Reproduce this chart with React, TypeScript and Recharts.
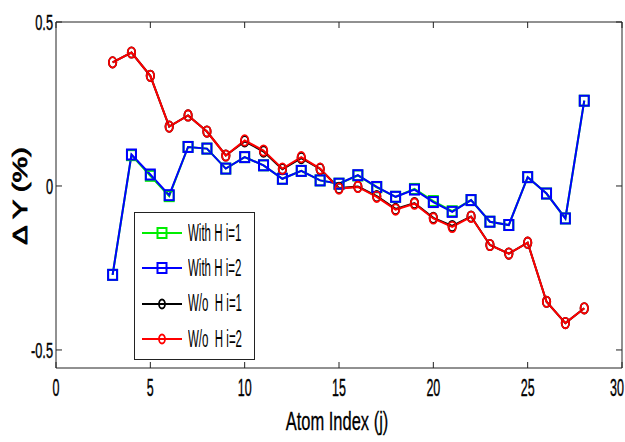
import { LineChart, Line, XAxis, YAxis, Legend } from 'recharts';

const atomIndex = [3, 4, 5, 6, 7, 8, 9, 10, 11, 12, 13, 14, 15, 16, 17, 18, 19, 20, 21, 22, 23, 24, 25, 26, 27, 28];

const withHi1 = [-0.271, 0.094, 0.031, -0.031, 0.119, 0.114, 0.053, 0.088, 0.063, 0.022, 0.046, 0.017, 0.007, 0.032, -0.004, -0.033, -0.009, -0.046, -0.077, -0.043, -0.109, -0.119, 0.027, -0.023, -0.099, 0.26];
const withHi2 = [-0.271, 0.096, 0.035, -0.028, 0.119, 0.114, 0.053, 0.088, 0.063, 0.022, 0.046, 0.017, 0.007, 0.033, -0.003, -0.033, -0.011, -0.049, -0.079, -0.043, -0.109, -0.119, 0.027, -0.023, -0.099, 0.26];
const woHi1 = [0.377, 0.407, 0.336, 0.181, 0.215, 0.166, 0.093, 0.136, 0.105, 0.051, 0.085, 0.052, -0.006, -0.002, -0.031, -0.07, -0.052, -0.097, -0.122, -0.093, -0.18, -0.206, -0.173, -0.353, -0.418, -0.373];
const woHi2 = [0.377, 0.407, 0.336, 0.181, 0.215, 0.166, 0.093, 0.139, 0.108, 0.053, 0.088, 0.053, -0.008, -0.003, -0.033, -0.072, -0.054, -0.099, -0.125, -0.094, -0.18, -0.206, -0.173, -0.353, -0.418, -0.373];

const xTicks = [0, 5, 10, 15, 20, 25, 30];
const yTicks = [-0.5, 0, 0.5];

const seriesNames = ['With H i=1', 'With H i=2', 'W/o  H i=1', 'W/o  H i=2'];
const seriesColors = ['#00ee00', '#0000ff', '#000000', '#ff0000'];
const seriesMarkers = ['square', 'square', 'circle', 'circle'];

const data = atomIndex.map((x, i) => ({
  x,
  withHi1: withHi1[i],
  withHi2: withHi2[i],
  woHi1: woHi1[i],
  woHi2: woHi2[i],
}));

const FONT = "'Liberation Sans', Arial, sans-serif";

const squareDot = (color: string) => (props: any) => {
  const { cx, cy, index } = props;
  if (cx == null || cy == null) return <g key={index} />;
  return (
    <rect key={index} x={cx - 4.5} y={cy - 5} width={9} height={10} fill="none" stroke={color} strokeWidth={2} />
  );
};

const circleDot = (color: string) => (props: any) => {
  const { cx, cy, index } = props;
  if (cx == null || cy == null) return <g key={index} />;
  return <ellipse key={index} cx={cx} cy={cy} rx={3.7} ry={5.2} fill="none" stroke={color} strokeWidth={1.8} />;
};

// narrow, tall tick labels like the old matlab export
const XTick = (props: any) => {
  const { x, y, payload } = props;
  return (
    <g transform={`translate(${x},${y})`}>
      <text transform="scale(0.52,1)" textAnchor="middle" dy="0.73em" fontSize={24} fontFamily={FONT} fill="#000" stroke="#000" strokeWidth={0.4}>
        {payload.value}
      </text>
    </g>
  );
};

const YTick = (props: any) => {
  const { x, y, payload } = props;
  return (
    <g transform={`translate(${x},${y})`}>
      <text transform="scale(0.58,1)" textAnchor="end" dy="0.36em" fontSize={22} fontFamily={FONT} fill="#000" stroke="#000" strokeWidth={0.4}>
        {payload.value}
      </text>
    </g>
  );
};

const renderLegend = () => (
  <div
    style={{
      width: 121,
      height: 148,
      border: '1.5px solid #222',
      background: '#fff',
      boxSizing: 'border-box',
      paddingTop: 2.5,
      fontFamily: FONT,
    }}
  >
    {seriesNames.map((name, i) => (
      <div key={name} style={{ display: 'flex', alignItems: 'center', height: 35.3 }}>
        <svg width={44} height={14} style={{ marginLeft: 6, flexShrink: 0 }}>
          <line x1={1} y1={7} x2={41} y2={7} stroke={seriesColors[i]} strokeWidth={2} />
          {seriesMarkers[i] === 'square' ? (
            <rect x={16.5} y={2} width={9} height={10} fill="none" stroke={seriesColors[i]} strokeWidth={2} />
          ) : (
            <ellipse cx={21} cy={7} rx={3} ry={4.5} fill="none" stroke={seriesColors[i]} strokeWidth={1.8} />
          )}
        </svg>
        <span
          style={{
            display: 'inline-block',
            fontSize: 23,
            lineHeight: '23px',
            color: '#000',
            whiteSpace: 'pre',
            marginLeft: 3,
            transform: 'scaleX(0.5)',
            transformOrigin: 'left center',
          }}
        >
          {name}
        </span>
      </div>
    ))}
  </div>
);

const xLabel = (props: any) => {
  const vb = props.viewBox || { x: 56, y: 368, width: 566, height: 74 };
  const cx = vb.x + vb.width / 2 - 2;
  const by = vb.y + 62;
  return (
    <g transform={`translate(${cx},${by})`}>
      <text transform="scale(0.66,1)" textAnchor="middle" fontSize={25} fontFamily={FONT} fill="#000" stroke="#000" strokeWidth={0.3}>
        Atom Index (j)
      </text>
    </g>
  );
};

const yLabel = (props: any) => {
  const vb = props.viewBox || { x: 0, y: 22, width: 56, height: 346 };
  const x = vb.x + 20;
  const y = vb.y + vb.height / 2 + 1;
  return (
    <g transform={`translate(${x},${y}) rotate(-90)`}>
      <text
        transform="scale(1.45,1)"
        textAnchor="middle"
        dominantBaseline="central"
        fontFamily={FONT}
        fontSize={20}
        fill="#000"
        stroke="#000"
        strokeWidth={0.8}
      >
        Δ Y (%)
      </text>
    </g>
  );
};

export default function App() {
  return (
    <div style={{ position: 'absolute', left: 0, top: 0, width: 625, height: 442, background: '#fff', overflow: 'hidden' }}>
      <LineChart width={625} height={442} data={data} margin={{ top: 0, right: 0, left: 0, bottom: 0 }}>
        <XAxis
          xAxisId="bottom"
          dataKey="x"
          type="number"
          domain={[0, 30]}
          ticks={xTicks}
          allowDataOverflow
          height={74}
          tickSize={-6}
          tickMargin={16}
          stroke="#222"
          tick={<XTick />}
          label={xLabel}
        />
        <XAxis
          xAxisId="top"
          orientation="top"
          dataKey="x"
          type="number"
          domain={[0, 30]}
          ticks={xTicks}
          allowDataOverflow
          height={22}
          tickSize={-6}
          stroke="#222"
          tickFormatter={() => ''}
        />
        <YAxis
          yAxisId="left"
          type="number"
          domain={[-0.555, 0.5]}
          ticks={yTicks}
          allowDataOverflow
          width={56}
          tickSize={-6}
          tickMargin={9}
          stroke="#222"
          tick={<YTick />}
          label={yLabel}
        />
        <YAxis
          yAxisId="right"
          orientation="right"
          type="number"
          domain={[-0.555, 0.5]}
          ticks={yTicks}
          allowDataOverflow
          width={3}
          tickSize={-6}
          stroke="#222"
          tickFormatter={() => ''}
        />
        <Legend
          layout="vertical"
          align="center"
          verticalAlign="middle"
          content={renderLegend}
          wrapperStyle={{ left: 134, top: 212, width: 121, height: 148 }}
        />
        <Line xAxisId="bottom" yAxisId="left" type="linear" dataKey="withHi1" stroke={seriesColors[0]} strokeWidth={2} dot={squareDot(seriesColors[0])} isAnimationActive={false} />
        <Line xAxisId="bottom" yAxisId="left" type="linear" dataKey="woHi1" stroke={seriesColors[2]} strokeWidth={2} dot={circleDot(seriesColors[2])} isAnimationActive={false} />
        <Line xAxisId="bottom" yAxisId="left" type="linear" dataKey="withHi2" stroke={seriesColors[1]} strokeWidth={2} dot={squareDot(seriesColors[1])} isAnimationActive={false} />
        <Line xAxisId="bottom" yAxisId="left" type="linear" dataKey="woHi2" stroke={seriesColors[3]} strokeWidth={2} dot={circleDot(seriesColors[3])} isAnimationActive={false} />
      </LineChart>
    </div>
  );
}
